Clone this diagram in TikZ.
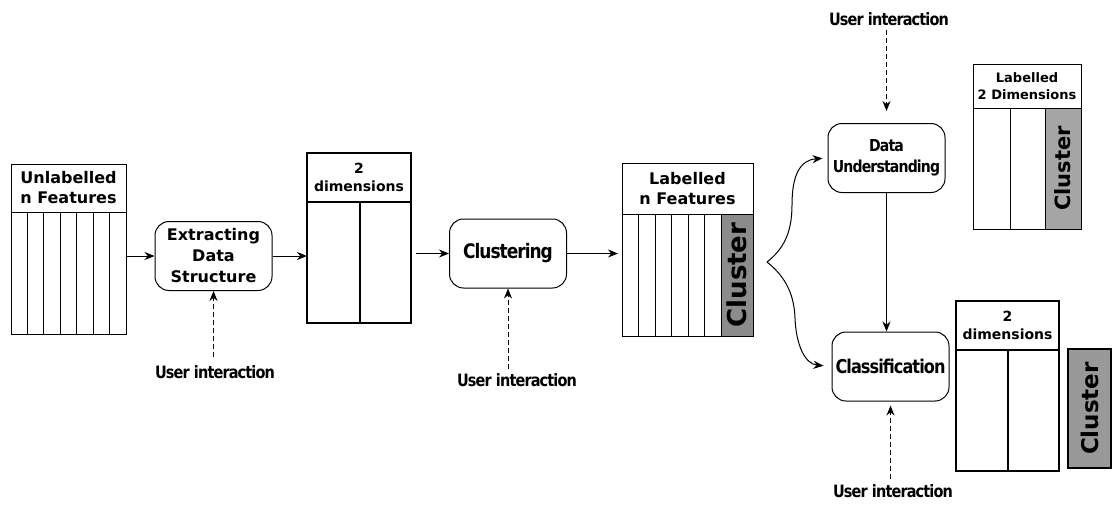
\documentclass[tikz,border=0pt]{standalone}
\usepackage{fontspec}
\setmainfont{DejaVu Sans}
\newfontfamily\condfont{DejaVu Sans}[FakeStretch=0.85, LetterSpace=-5]
\usepackage{tikz}
\usetikzlibrary{arrows.meta, positioning}
\definecolor{clusterdark}{RGB}{140, 140, 140}
\definecolor{clusterlight}{RGB}{165, 165, 165}
\definecolor{clustermid}{RGB}{153, 153, 153}

\begin{document}
\begin{tikzpicture}[x=1pt, y=-1pt]
    % Styles
    \tikzstyle{process} = [rectangle, draw, rounded corners=14pt, text centered, align=center, minimum width=117pt, minimum height=69pt, line width=1pt, inner sep=2pt]
    \tikzstyle{header} = [rectangle, draw, align=center, anchor=north west, outer sep=0pt, inner sep=1pt, line width=1pt]
    \tikzstyle{columns} = [rectangle, draw, outer sep=0pt, line width=1pt]
    \tikzstyle{cluster} = [rectangle, draw, outer sep=0pt, line width=1pt, font=\bfseries]
    \tikzstyle{user} = [font=\condfont\bfseries\fontsize{17}{20}\selectfont, inner sep=2pt]
    \tikzstyle{arrow} = [-{Stealth[length=10pt, width=8pt]}, line width=1pt]
    \tikzstyle{uarrow} = [-{Stealth[length=10pt, width=8pt]}, line width=1pt, dash pattern=on 5pt off 3pt]

    \useasboundingbox (0,0) rectangle (1113,507);

    % Tables
    \node [header, minimum width=115pt, minimum height=48pt, font=\bfseries\fontsize{16}{20}\selectfont] (unlab) at (11,164) {Unlabelled\\n Features};
    \node [columns, minimum width=115pt, minimum height=122pt, below=0pt of unlab] (unlabcols) {};
    \foreach \i in {1,...,6}
        \draw [line width=1pt] ([xshift=\i*16.43pt]unlabcols.north west) -- ([xshift=\i*16.43pt]unlabcols.south west);

    \node [header, line width=2pt, minimum width=104pt, minimum height=49pt, font=\bfseries\fontsize{14}{18}\selectfont] (dim) at (307,153) {2\\dimensions};
    \node [columns, line width=2pt, minimum width=104pt, minimum height=121pt, below=0pt of dim] (dimcols) {};
    \draw [line width=2pt] ([xshift=53pt]dimcols.north west) -- ([xshift=53pt]dimcols.south west);

    \node [header, minimum width=131pt, minimum height=51pt, font=\bfseries\fontsize{16}{20}\selectfont] (lab) at (622,163) {Labelled\\n Features};
    \node [columns, minimum width=131pt, minimum height=122pt, below=0pt of lab] (labcols) {};
    \node [cluster, fill=clusterdark, anchor=north east, minimum width=32pt, minimum height=122pt] (labclus) at (labcols.north east) {\fontsize{26}{26}\selectfont\rotatebox{90}{Cluster}};
    \foreach \i in {1,...,5}
        \draw [line width=1pt] ([xshift=\i*16.5pt]labcols.north west) -- ([xshift=\i*16.5pt]labcols.south west);

    \node [header, minimum width=108pt, minimum height=44pt, font=\bfseries\fontsize{13}{17}\selectfont] (labdim) at (973,64) {Labelled\\2 Dimensions};
    \node [columns, minimum width=108pt, minimum height=121pt, below=0pt of labdim] (labdimcols) {};
    \node [cluster, fill=clusterlight, anchor=north east, minimum width=36pt, minimum height=121pt] (labdimclus) at (labdimcols.north east) {\fontsize{21}{21}\selectfont\rotatebox{90}{Cluster}};
    \draw [line width=1pt] ([xshift=37pt]labdimcols.north west) -- ([xshift=37pt]labdimcols.south west);

    \node [header, line width=2pt, minimum width=103pt, minimum height=49pt, font=\bfseries\fontsize{14}{18}\selectfont] (outdim) at (956,301) {2\\dimensions};
    \node [columns, line width=2pt, minimum width=103pt, minimum height=121pt, below=0pt of outdim] (outdimcols) {};
    \draw [line width=2pt] ([xshift=52pt]outdimcols.north west) -- ([xshift=52pt]outdimcols.south west);
    \node [cluster, line width=2pt, fill=clustermid, anchor=north west, minimum width=43pt, minimum height=119pt] (outclus) at (1068,349) {\fontsize{23}{23}\selectfont\rotatebox{90}{Cluster}};

    % Processes
    \node [process, font=\bfseries\fontsize{16}{21}\selectfont] (extract) at (213.5,256) {Extracting\\Data\\Structure};
    \node [process, font=\condfont\bfseries\fontsize{20}{24}\selectfont] (cluster) at (508,253.5) {Clustering};
    \node [process, font=\condfont\bfseries\fontsize{16.5}{21}\selectfont] (dataund) at (886.5,158) {Data\\Understanding};
    \node [process, font=\condfont\bfseries\fontsize{19}{23}\selectfont] (classif) at (890.5,366.5) {Classification};

    % User interaction
    \node [user] (uiextract) at (215,372) {User interaction};
    \node [user] (uicluster) at (517,380) {User interaction};
    \node [user] (uidataund) at (889,19) {User interaction};
    \node [user] (uiclassif) at (893,491) {User interaction};

    \coordinate (split) at (767,262);

    % Arrows
    \draw [arrow] (unlabcols.east |- extract.west) -- (extract);
    \draw [arrow] (extract) -- (extract.east -| dimcols.west);
    \draw [arrow, shorten <=5pt] (dimcols.east |- cluster.west) -- (cluster);
    \draw [arrow, shorten >=4pt] (cluster) -- (cluster.east -| labcols.west);
    \draw [arrow, shorten >=5pt] (split) .. controls (782,250) and (792,235) .. (792,205) .. controls (792,175) and (800,160) .. (dataund.west);
    \draw [arrow, shorten >=8pt] (split) .. controls (782,274) and (794,290) .. (795,318) .. controls (796,345) and (805,364) .. (classif.west);
    \draw [arrow] (dataund) -- (dataund.south |- classif.north);

    \draw [uarrow, shorten <=6pt] (uiextract.north -| extract.south) -- (extract.south);
    \draw [uarrow, shorten <=2pt] (uicluster.north -| cluster.south) -- (cluster.south);
    \draw [uarrow, shorten <=2pt, shorten >=12pt] (uidataund.south -| dataund.north) -- (dataund.north);
    \draw [uarrow, shorten <=3pt, shorten >=4pt] (uiclassif.north -| classif.south) -- (classif.south);
\end{tikzpicture}
\end{document}
